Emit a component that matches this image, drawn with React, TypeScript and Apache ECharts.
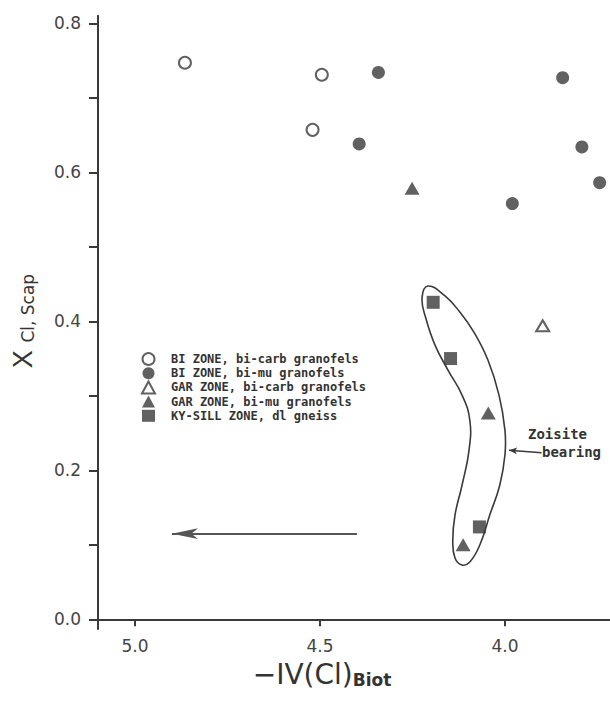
import React, { useEffect, useRef } from 'react';
import * as echarts from 'echarts';

// ---- data ----
const seriesNames = [
  'BI ZONE, bi-carb granofels',
  'BI ZONE, bi-mu granofels',
  'GAR ZONE, bi-carb granofels',
  'GAR ZONE, bi-mu granofels',
  'KY-SILL ZONE, dl gneiss',
];
const biCarbX = [4.865, 4.495, 4.52];
const biCarbY = [0.747, 0.731, 0.657];
const biMuX = [4.342, 3.844, 4.394, 3.792, 3.744, 3.98];
const biMuY = [0.734, 0.727, 0.638, 0.634, 0.586, 0.558];
const garCarbX = [3.898];
const garCarbY = [0.394];
const garMuX = [4.251, 4.045, 4.113];
const garMuY = [0.5785, 0.277, 0.1];
const kySillX = [4.194, 4.147, 4.069];
const kySillY = [0.4255, 0.35, 0.124];

const xTickValues = [4.0, 4.5, 5.0];
const yTickValues = [0, 0.1, 0.2, 0.3, 0.4, 0.5, 0.6, 0.7, 0.8];
const yLabelValues = [0, 0.2, 0.4, 0.6, 0.8];

// zoisite-bearing envelope outline (data units)
const envelopeX = [4.208, 4.162, 4.122, 4.084, 4.046, 4.016, 4.0, 4.0, 4.014, 4.041, 4.068, 4.095, 4.116, 4.135, 4.141, 4.135, 4.116, 4.097, 4.095, 4.116, 4.154, 4.189, 4.214, 4.224];
const envelopeY = [0.4474, 0.434, 0.4125, 0.3856, 0.348, 0.301, 0.254, 0.2205, 0.18, 0.14, 0.0997, 0.0769, 0.0729, 0.0823, 0.1064, 0.14, 0.18, 0.2272, 0.2675, 0.301, 0.3346, 0.368, 0.4044, 0.4313];

// arrows (data units)
const bigArrowX = [4.4, 4.9];
const bigArrowY = [0.115, 0.115];
const zoisiteArrowX = [3.901, 3.989];
const zoisiteArrowY = [0.2236, 0.227];

const INK = '#3a3a3a';
const TICK_FONT = 'DejaVu Sans';
const LEGEND_FONT = 'DejaVu Sans Mono';

const zip = (xs: number[], ys: number[]) => xs.map((x, i) => [x, ys[i]]);

export default function App() {
  const ref = useRef<HTMLDivElement>(null);
  useEffect(() => {
    if (!ref.current) return;
    const chart = echarts.init(ref.current, null, { renderer: 'svg' });
    const openStyle = { color: '#ffffff', borderColor: INK, borderWidth: 2 };
    const fillStyle = { color: INK };
    chart.setOption({
      animation: false,
      backgroundColor: '#ffffff',
      grid: { left: 98, right: 0, top: 15.85, bottom: 73, containLabel: false },
      xAxis: {
        type: 'value',
        inverse: true,
        min: 3.716,
        max: 5.1,
        splitLine: { show: false },
        axisLine: { show: true, onZero: true, lineStyle: { color: INK, width: 2 } },
        axisTick: { show: true, customValues: xTickValues, length: 7, lineStyle: { color: INK, width: 2 } },
        axisLabel: {
          customValues: xTickValues,
          formatter: (v: number) => v.toFixed(1),
          margin: 8,
          fontFamily: TICK_FONT,
          fontSize: 17,
          color: '#444',
        },
      },
      yAxis: {
        type: 'value',
        min: -0.013,
        max: 0.81,
        splitLine: { show: false },
        axisLine: { show: true, lineStyle: { color: INK, width: 2 } },
        axisTick: { show: true, customValues: yTickValues, length: 9, lineStyle: { color: INK, width: 2 } },
        axisLabel: {
          customValues: yLabelValues,
          formatter: (v: number) => v.toFixed(1),
          margin: 17,
          fontFamily: TICK_FONT,
          fontSize: 17,
          color: '#444',
        },
      },
      legend: {
        data: seriesNames,
        orient: 'vertical',
        left: 141,
        top: 352,
        padding: 0,
        itemWidth: 13,
        itemHeight: 12,
        itemGap: 0.2,
        symbolKeepAspect: true,
        selectedMode: false,
        textStyle: {
          fontFamily: LEGEND_FONT,
          fontWeight: 'bold',
          fontSize: 12,
          lineHeight: 14,
          padding: [0, 0, 0, 11],
          color: '#333',
        },
      },
      series: [
        { name: seriesNames[0], type: 'scatter', symbol: 'circle', symbolSize: 12, itemStyle: openStyle, data: zip(biCarbX, biCarbY) },
        { name: seriesNames[1], type: 'scatter', symbol: 'circle', symbolSize: 13, itemStyle: fillStyle, data: zip(biMuX, biMuY) },
        { name: seriesNames[2], type: 'scatter', symbol: 'triangle', symbolSize: [13, 11], itemStyle: openStyle, data: zip(garCarbX, garCarbY) },
        { name: seriesNames[3], type: 'scatter', symbol: 'triangle', symbolSize: [15, 13], itemStyle: fillStyle, data: zip(garMuX, garMuY) },
        { name: seriesNames[4], type: 'scatter', symbol: 'rect', symbolSize: 13, itemStyle: fillStyle, data: zip(kySillX, kySillY) },
        {
          name: 'envelope',
          type: 'custom',
          silent: true,
          z: 1,
          data: [[envelopeX[0], envelopeY[0]]],
          renderItem: (params: any, api: any) => {
            if (params.dataIndex !== 0) return null;
            const pts = envelopeX.map((x, i) => api.coord([x, envelopeY[i]]));
            return {
              type: 'polygon',
              shape: { points: pts, smooth: 0.45 },
              style: { fill: 'none', stroke: INK, lineWidth: 1.6 },
            };
          },
          markLine: {
            silent: true,
            animation: false,
            label: { show: false },
            lineStyle: { color: INK, type: 'solid' },
            data: [
              [
                { coord: [bigArrowX[0], bigArrowY[0]], symbol: 'none', lineStyle: { width: 2.2, color: '#555' } },
                { coord: [bigArrowX[1], bigArrowY[1]], symbol: 'arrow', symbolSize: [8, 26] },
              ],
              [
                { coord: [zoisiteArrowX[0], zoisiteArrowY[0]], symbol: 'none', lineStyle: { width: 1.4, curveness: 0.15 } },
                { coord: [zoisiteArrowX[1], zoisiteArrowY[1]], symbol: 'arrow', symbolSize: [5, 8] },
              ],
            ],
          },
        },
      ],
      graphic: [
        {
          type: 'text',
          x: 23,
          y: 321,
          rotation: Math.PI / 2,
          style: {
            text: '{m|X }{s|Cl, Scap}',
            align: 'center',
            verticalAlign: 'middle',
            fill: '#333',
            rich: {
              m: { fontFamily: 'Liberation Sans', fontSize: 27, verticalAlign: 'bottom', fill: '#333' },
              s: { fontFamily: 'DejaVu Sans', fontSize: 17, verticalAlign: 'bottom', fill: '#333' },
            },
          },
        },
        {
          type: 'text',
          x: 322,
          y: 674,
          style: {
            text: '{m|−IV(Cl)}{s|Biot}',
            align: 'center',
            verticalAlign: 'middle',
            fill: '#333',
            rich: {
              m: { fontFamily: 'DejaVu Sans', fontSize: 28, verticalAlign: 'bottom', fill: '#333' },
              s: { fontFamily: 'DejaVu Sans', fontWeight: 'bold', fontSize: 17, verticalAlign: 'bottom', fill: '#333' },
            },
          },
        },
        {
          type: 'text',
          x: 528,
          y: 427,
          style: { text: 'Zoisite', fontFamily: LEGEND_FONT, fontWeight: 'bold', fontSize: 14, fill: '#333', verticalAlign: 'top' },
        },
        {
          type: 'text',
          x: 542,
          y: 445,
          style: { text: 'bearing', fontFamily: LEGEND_FONT, fontWeight: 'bold', fontSize: 14, fill: '#333', verticalAlign: 'top' },
        },
      ],
    });
    return () => chart.dispose();
  }, []);
  return <div ref={ref} style={{ width: 610, height: 702, position: 'absolute', left: 0, top: 0 }} />;
}
